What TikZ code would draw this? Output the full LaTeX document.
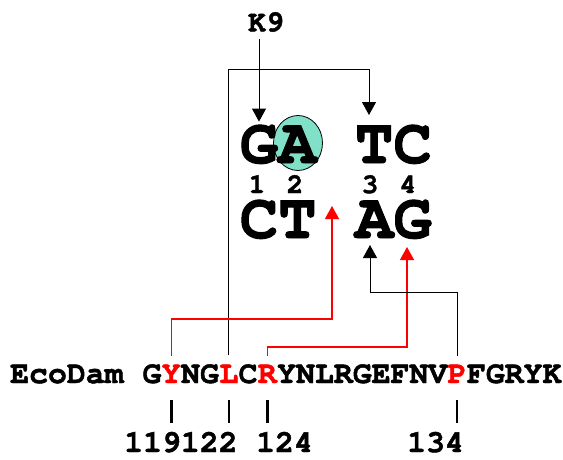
\documentclass[tikz,border=0pt]{standalone}
\usepackage{fontspec}
\usepackage{tikz}
\usetikzlibrary{shapes.geometric,arrows.meta,positioning,calc}
\newfontfamily\courfont{TeX Gyre Cursor}[BoldFeatures={FakeBold=1.5}]
\definecolor{SiteTeal}{RGB}{128,224,200}
\definecolor{HitRed}{RGB}{255,0,0}

\begin{document}
\begin{tikzpicture}[x=1pt,y=1pt,
  bigtxt/.style={inner sep=0pt,anchor=base,font=\courfont\bfseries\fontsize{64}{64}\selectfont},
  seqtxt/.style={inner sep=0pt,anchor=base west,font=\courfont\bfseries\fontsize{31.5}{32}\selectfont},
  numtxt/.style={inner sep=0pt,anchor=base west,font=\courfont\bfseries\fontsize{31.5}{32}\selectfont},
  posnum/.style={inner sep=0pt,anchor=base,font=\courfont\bfseries\fontsize{28}{28}\selectfont},
  blkarr/.style={draw=black,line width=1pt,-{Triangle[length=13pt,width=14pt]}},
  redarr/.style={draw=HitRed,line width=1.3pt,-{Triangle[length=13pt,width=14pt]}},
  tickmark/.style={line width=2.5pt},
]
\useasboundingbox (0,0) rectangle (563,-459);
% flipped base
\node[draw=black,fill=SiteTeal,ellipse,minimum width=49pt,minimum height=55pt,
      inner sep=0pt,line width=0.8pt] (siteA) at (298,-143) {};
\foreach \x/\t/\b/\i in {259/G/C/1, 297.4/A/T/2, 374.2/T/A/3, 412.6/C/G/4} {
  \node[bigtxt] (top\i) at (\x,-163) {\t};
  \node[bigtxt] (bot\i) at (\x,-238) {\b};
}
\foreach \x/\n in {257/1, 295/2, 370/3, 408/4}
  \node[posnum] (d\n) at (\x,-193) {\n};
\node[font=\courfont\bfseries\fontsize{30}{30}\selectfont,inner sep=7pt] (k9) at (266,-22) {K9};

% EcoDam sequence
\node[seqtxt] (eco) at (10,-383) {EcoDam G};
\node[seqtxt,text=HitRed] (y119) at (eco.base east) {Y};
\node[seqtxt] (ng) at (y119.base east) {NG};
\node[seqtxt,text=HitRed] (l122) at (ng.base east) {L};
\node[seqtxt] (cc) at (l122.base east) {C};
\node[seqtxt,text=HitRed] (r124) at (cc.base east) {R};
\node[seqtxt] (mid) at (r124.base east) {YNLRGEFNV};
\node[seqtxt,text=HitRed] (p134) at (mid.base east) {P};
\node[seqtxt] (tail) at (p134.base east) {FGRYK};
\foreach \r in {y119,l122,r124,p134}
  \draw[tickmark] ($(\r.base)+(0,-17)$) -- ++(0,-23);
\node[numtxt] (n119) at (124,-452) {119122};
\node[numtxt] (n124) at (256,-452) {124};
\node[numtxt] (n134) at (407,-452) {134};

% arrows
\coordinate (tTip) at (369,-115);
\coordinate (ctTip) at (332,-206);
\coordinate (aTip) at (370,-245);
\coordinate (gTip) at (407,-247);
\draw[blkarr,shorten >=3pt] (k9.south -| top1.north) -- (top1.north);
\draw[blkarr,shorten <=9pt] (l122.north) -- (l122.north |- 0,-69) -| (tTip);
\draw[redarr,shorten <=8pt] (y119.north) -- (y119.north |- 0,-319) -| (ctTip);
\draw[redarr,shorten <=8pt] (r124.north) -- (r124.north |- 0,-347) -| (gTip);
\draw[blkarr,shorten <=8pt] (p134.north) -- (p134.north |- 0,-292) -| (aTip);
\end{tikzpicture}
\end{document}
